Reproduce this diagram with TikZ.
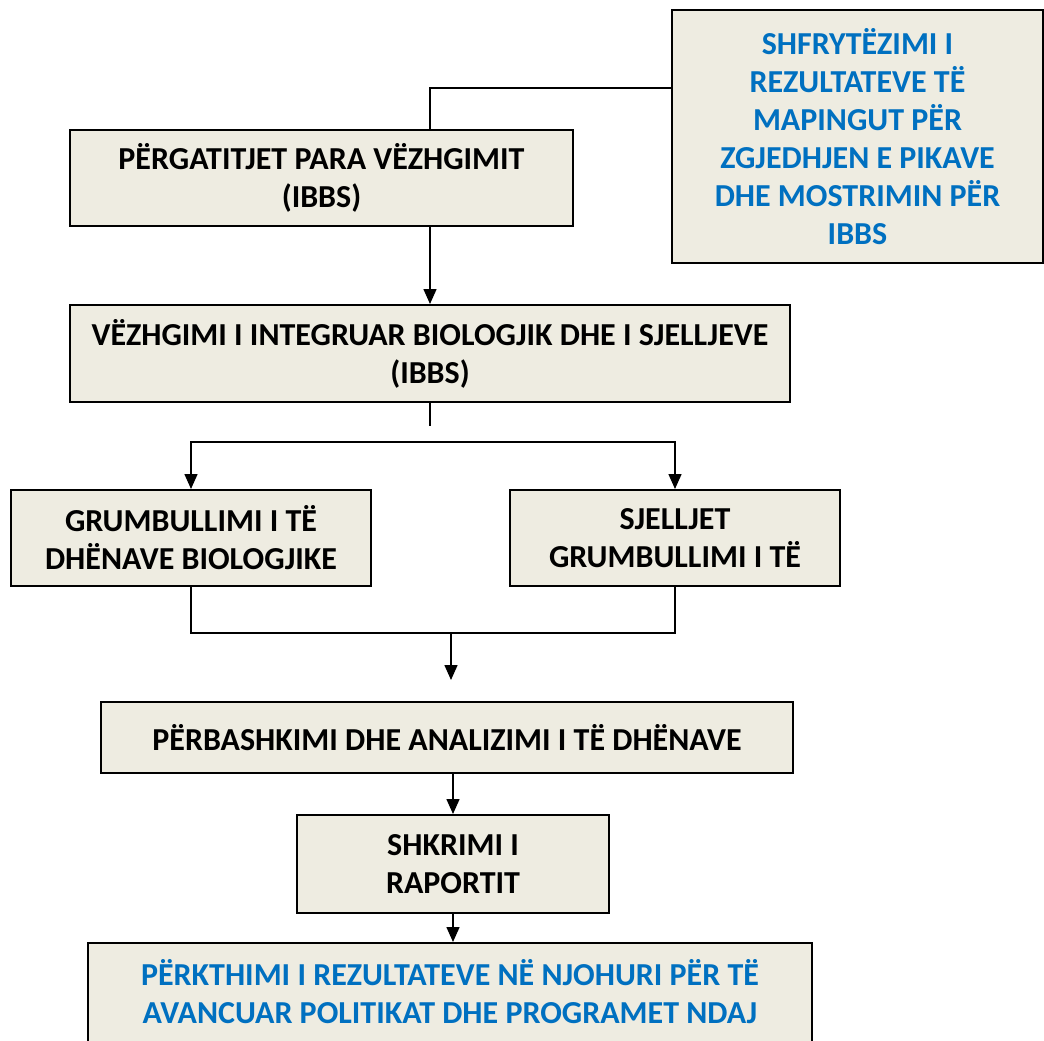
\documentclass[tikz,border=0pt]{standalone}
\usepackage{fontspec}
\setmainfont{Carlito}
\usetikzlibrary{positioning,arrows.meta}

\definecolor{sfond}{RGB}{238,236,225}
\definecolor{blu}{RGB}{0,112,192}

\tikzset{
  kutia/.style={draw=black, line width=2pt, fill=sfond, align=center,
    inner sep=0pt, font=\bfseries\fontsize{32}{38}\selectfont},
  teksti/.style={align=center, inner sep=0pt,
    font=\bfseries\fontsize{32}{38}\selectfont},
  lidhja/.style={line width=1.5pt},
  shigjeta/.style={lidhja, -{Triangle[length=15pt,width=13pt]}}
}

\begin{document}
\begin{tikzpicture}[x=1pt, y=-1pt]

\useasboundingbox (0,0) rectangle (1044,1041);
\clip (0,0) rectangle (1044,1041);

% ---------- Kutite ----------
\node[kutia, minimum width=503pt, minimum height=96pt] (pergatitje) at (321.5,178)
  {PËRGATITJET PARA VËZHGIMIT\\(IBBS)};
\node[kutia, text=blu, minimum width=371pt, minimum height=252pt] (shfrytezimi) at (857.5,136.5)
  {SHFRYTËZIMI I\\REZULTATEVE TË\\MAPINGUT PËR\\ZGJEDHJEN E PIKAVE\\DHE MOSTRIMIN PËR\\IBBS};
\node[kutia, minimum width=720pt, minimum height=97pt] (vezhgimi) at (430,353.5)
  {VËZHGIMI I INTEGRUAR BIOLOGJIK DHE I SJELLJEVE\\(IBBS)};
\node[kutia, minimum width=360pt, minimum height=96pt] (biologjike) at (191,538)
  {GRUMBULLIMI I TË\\DHËNAVE BIOLOGJIKE};
\node[kutia, minimum width=330pt, minimum height=96pt] (sjelljet) at (675,538)
  {SJELLJET\\GRUMBULLIMI I TË};
\node[kutia, minimum width=692pt, minimum height=71pt] (perbashkimi) at (447,737.5)
  {PËRBASHKIMI DHE ANALIZIMI I TË DHËNAVE};
\node[kutia, minimum width=312pt, minimum height=98pt] (shkrimi) at (453,864)
  {SHKRIMI I\\RAPORTIT};
\node[kutia, minimum width=724pt, minimum height=140pt, anchor=north] (perkthimi) at (450,942) {};
\node[teksti, text=blu, below=17pt of perkthimi.north]
  {PËRKTHIMI I REZULTATEVE NË NJOHURI PËR TË\\AVANCUAR POLITIKAT DHE PROGRAMET NDAJ};

% ---------- Lidhjet ----------
\draw[lidhja] ([yshift=48.5pt]shfrytezimi.west) -| ([xshift=108.5pt]pergatitje.north);
\draw[shigjeta] (pergatitje.south -| vezhgimi.north) -- (vezhgimi.north);
\draw[lidhja] (vezhgimi.south) -- ++(0,23);

\coordinate (ndarja) at (430,442);
\draw[shigjeta] (ndarja) -| (biologjike.north);
\draw[shigjeta] (ndarja) -| (sjelljet.north);

\coordinate (bashkimi) at (451,633);
\draw[lidhja] (biologjike.south) |- (bashkimi) -| (sjelljet.south);
\draw[shigjeta] (bashkimi) -- ([yshift=21pt]perbashkimi.north -| bashkimi);

\draw[shigjeta] (perbashkimi.south -| shkrimi.north) -- (shkrimi.north);
\draw[shigjeta] (shkrimi.south) -- (shkrimi.south |- perkthimi.north);

\end{tikzpicture}
\end{document}
